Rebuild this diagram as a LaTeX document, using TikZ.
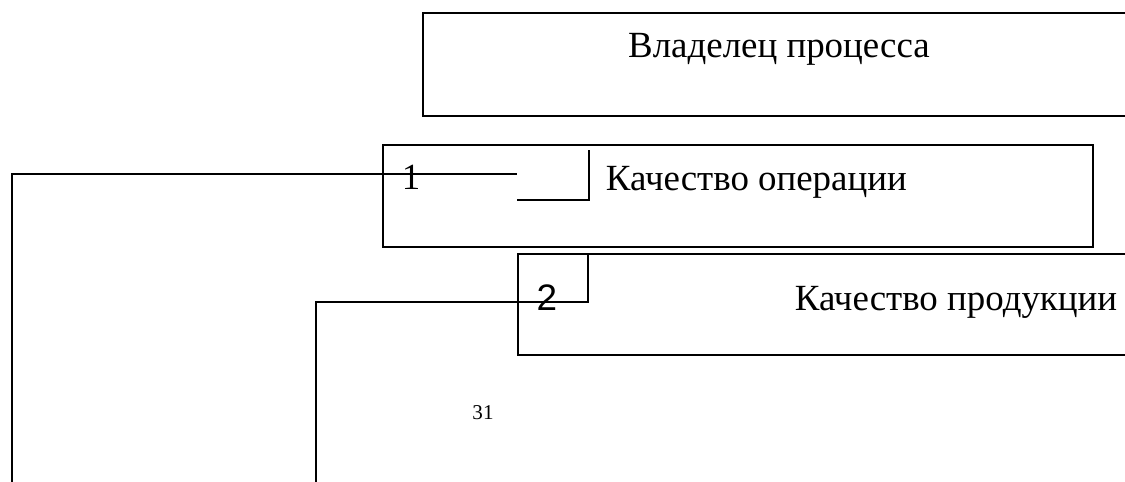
\documentclass[tikz,border=0pt]{standalone}
\usepackage{fontspec}
\setmainfont{Liberation Serif}
\newfontfamily\digitfont{Liberation Sans}
\usetikzlibrary{positioning}

\begin{document}
\begin{tikzpicture}
	[x=0.02cm, y=-0.02cm, line width=1.1pt,
	 box/.style={draw, rectangle, inner sep=0pt, anchor=north west},
	 title/.style={inner sep=0pt, anchor=base, font=\fontsize{21}{25}\selectfont},
	 num/.style={inner sep=0pt, anchor=base}]
	\useasboundingbox (0,0) rectangle (1125,482);
	\clip (0,0) rectangle (1125,482);
	\node[box, minimum width=16cm, minimum height=2.06cm] (owner) at (422,12) {};
	\node[box, minimum width=14.2cm, minimum height=2.04cm] (oper) at (382,144) {};
	\node[box, minimum width=14cm, minimum height=2.02cm] (prod) at (517,253) {};
	\node[title] (ownertext) at (779,58) {Владелец процесса};
	\node[title, anchor=base west] (opertext) at (605,191) {Качество операции};
	\node[title] (prodtext) at (956,311) {Качество продукции};
	\node[num, font=\fontsize{21}{24}\selectfont] (one) at (411,190) {1};
	\node[num, font=\digitfont\fontsize{21}{24}\selectfont] (two) at (547,311) {2};
	\node[num, font=\fontsize{12}{14}\selectfont] (page) at (483,419) {31};
	% connectors
	\coordinate (foot1) at (12,482);
	\coordinate (foot2) at (316,482);
	\coordinate (tip1) at (517,174);
	\coordinate (tip2) at (588,302);
	\coordinate (hook1) at (517,200);
	\coordinate (hook1top) at (589,150);
	\draw (foot1) |- (tip1);
	\draw (hook1) -| (hook1top);
	\draw (foot2) |- (tip2) -- (tip2 |- prod.north);
\end{tikzpicture}
\end{document}
